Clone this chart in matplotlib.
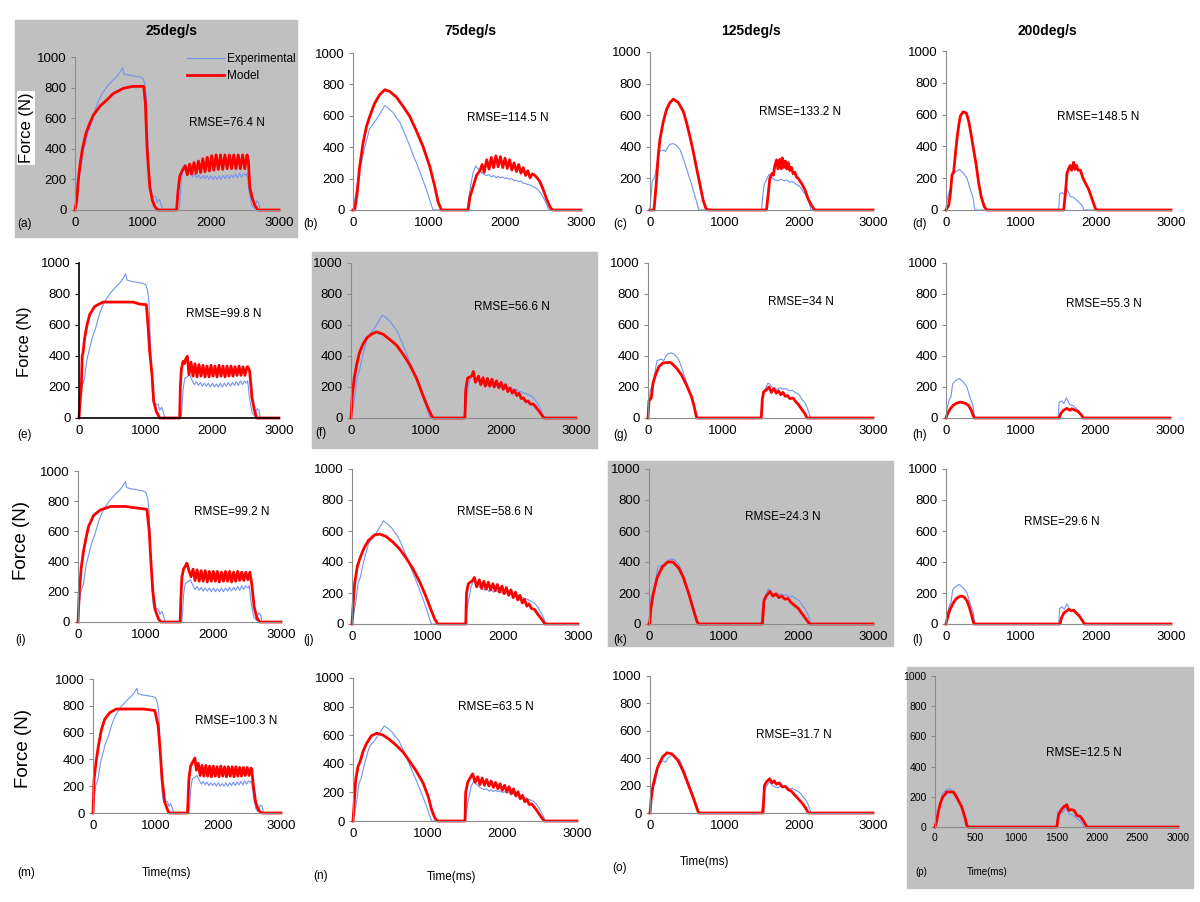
import matplotlib
matplotlib.use("Agg")
import matplotlib.pyplot as plt
from matplotlib.patches import Rectangle

plt.rcParams['font.family'] = ['Liberation Sans', 'DejaVu Sans']

# Experimental force curves (ms, N) - one per velocity, identical in each column
EXP_25 = [(0,0),(20,120),(40,200),(80,250),(120,380),(160,450),(200,520),(250,580),(300,660),(350,720),(400,760),(460,800),(520,830),(560,850),(610,870),(660,900),(700,930),(720,890),(760,885),(800,880),(850,878),(900,872),(950,870),(1000,860),(1030,820),(1050,740),(1070,500),(1090,250),(1110,120),(1130,80),(1160,90),(1190,85),(1210,50),(1240,70),(1270,30),(1290,0),(1530,0),(1545,60),(1560,180),(1585,255),(1620,265),(1660,280),(1700,240),(1730,215),(1760,235),(1790,210),(1820,230),(1850,205),(1880,225),(1910,205),(1940,225),(1970,200),(2000,225),(2030,200),(2060,220),(2090,200),(2120,225),(2150,200),(2180,225),(2210,205),(2240,230),(2270,205),(2300,230),(2330,210),(2360,235),(2390,210),(2420,240),(2450,215),(2480,240),(2510,225),(2530,240),(2560,120),(2600,30),(2640,10),(2670,60),(2700,50),(2720,0),(3000,0)]
EXP_75 = [(0,0),(22,60),(53,150),(79,260),(110,300),(154,400),(220,520),(285,560),(351,610),(417,665),(461,650),(527,620),(570,590),(615,560),(660,510),(703,460),(750,405),(791,350),(835,300),(878,245),(920,190),(966,130),(1000,80),(1032,30),(1054,0),(1500,0),(1515,50),(1546,150),(1581,240),(1616,280),(1640,265),(1669,250),(1700,235),(1730,225),(1757,220),(1790,225),(1820,210),(1850,220),(1880,205),(1910,215),(1940,205),(1970,210),(2000,200),(2030,205),(2060,195),(2090,200),(2120,185),(2150,190),(2180,180),(2210,185),(2240,170),(2270,170),(2300,160),(2330,160),(2360,150),(2390,145),(2420,135),(2450,120),(2481,100),(2525,60),(2569,10),(2591,0),(3000,0)]
EXP_125 = [(0,0),(15,100),(30,180),(50,200),(70,220),(90,290),(120,370),(150,375),(180,380),(210,370),(240,400),(270,415),(300,420),(340,415),(370,400),(400,385),(430,350),(460,310),(500,250),(540,190),(580,130),(610,80),(640,30),(660,0),(1500,0),(1515,80),(1535,160),(1565,190),(1600,225),(1620,220),(1650,200),(1680,190),(1720,185),(1760,195),(1800,185),(1840,190),(1880,175),(1920,180),(1960,165),(2000,155),(2030,140),(2060,115),(2090,100),(2120,70),(2150,30),(2165,0),(3000,0)]
EXP_200 = [(0,0),(13,60),(44,120),(67,140),(89,220),(124,240),(178,255),(235,230),(280,200),(324,130),(360,80),(378,20),(387,0),(1502,0),(1515,100),(1547,110),(1578,95),(1613,130),(1635,110),(1657,85),(1702,80),(1746,60),(1791,40),(1826,20),(1835,0),(3000,0)]

# Model force curves (ms, N) - one per panel
MOD_A = [(0,0),(25,60),(50,200),(75,300),(110,400),(160,500),(220,570),(270,620),(370,680),(470,720),(560,760),(710,795),(850,808),(1010,808),(1035,700),(1060,400),(1100,150),(1140,60),(1175,20),(1220,0),(1495,0),(1510,100),(1540,220),(1580,260),(1620,290),(1652,230),(1685,300),(1717,235),(1750,310),(1782,240),(1815,320),(1847,245),(1880,335),(1912,250),(1945,345),(1977,255),(2010,355),(2042,260),(2075,360),(2107,265),(2140,360),(2172,265),(2205,360),(2237,270),(2270,360),(2302,270),(2335,360),(2367,270),(2400,360),(2432,270),(2465,360),(2497,270),(2530,360),(2550,320),(2570,150),(2605,80),(2645,30),(2690,0),(3000,0)]
MOD_B = [(0,0),(22,0),(53,100),(88,277),(132,426),(176,530),(220,596),(285,680),(351,734),(417,766),(483,755),(571,719),(659,660),(747,596),(834,504),(922,404),(1010,277),(1076,150),(1120,50),(1164,0),(1515,0),(1537,80),(1581,150),(1625,220),(1669,250),(1700,290),(1725,240),(1760,320),(1790,260),(1820,335),(1850,270),(1880,345),(1910,275),(1940,340),(1970,270),(2000,330),(2030,265),(2060,320),(2090,255),(2120,300),(2150,245),(2180,290),(2210,235),(2240,270),(2270,220),(2300,250),(2330,205),(2360,230),(2394,220),(2430,200),(2460,180),(2503,130),(2547,70),(2591,20),(2626,0),(3000,0)]
MOD_C = [(0,0),(54,0),(72,100),(90,200),(112,349),(134,448),(179,560),(224,638),(269,680),(313,702),(381,680),(448,624),(493,550),(537,465),(582,370),(627,264),(672,160),(716,60),(752,10),(784,0),(1567,0),(1590,100),(1612,200),(1640,230),(1660,220),(1679,280),(1702,317),(1720,260),(1745,320),(1765,260),(1780,330),(1800,270),(1820,310),(1840,260),(1860,300),(1880,250),(1903,270),(1925,230),(1948,240),(1970,210),(1993,200),(2037,170),(2082,131),(2127,70),(2172,30),(2216,0),(3000,0)]
MOD_D = [(0,0),(36,30),(58,100),(80,220),(102,240),(124,346),(147,450),(169,530),(191,590),(227,617),(271,610),(302,560),(333,481),(369,377),(404,280),(436,168),(471,80),(511,20),(547,0),(1569,0),(1591,100),(1613,230),(1635,260),(1657,280),(1675,250),(1690,280),(1702,300),(1720,255),(1740,280),(1760,250),(1791,251),(1826,200),(1858,170),(1902,130),(1947,70),(1991,10),(2013,0),(3000,0)]
MOD_E = [(0,0),(15,100),(35,200),(48,400),(60,420),(85,516),(120,600),(160,667),(235,720),(360,748),(810,748),(910,735),(1010,731),(1035,600),(1060,430),(1095,280),(1120,108),(1160,43),(1210,0),(1510,0),(1520,200),(1535,312),(1560,365),(1580,350),(1600,380),(1625,398),(1650,280),(1680,360),(1710,270),(1740,350),(1770,265),(1800,345),(1830,270),(1860,340),(1890,265),(1920,335),(1950,265),(1980,340),(2010,270),(2040,335),(2070,265),(2100,340),(2130,270),(2160,335),(2190,265),(2220,335),(2250,270),(2280,335),(2310,270),(2340,330),(2370,275),(2400,335),(2430,275),(2460,330),(2490,275),(2520,330),(2535,330),(2560,300),(2595,130),(2635,43),(2665,0),(3000,0)]
MOD_F = [(0,0),(18,150),(44,260),(76,344),(111,419),(156,473),(209,516),(276,542),(342,555),(431,540),(520,505),(609,469),(698,409),(787,340),(875,254),(964,140),(1031,60),(1075,15),(1098,0),(1520,0),(1529,180),(1555,258),(1609,270),(1631,300),(1660,230),(1700,270),(1730,215),(1760,260),(1790,205),(1820,255),(1850,205),(1880,250),(1910,200),(1940,240),(1970,195),(2000,230),(2030,185),(2060,215),(2090,170),(2120,195),(2150,160),(2180,180),(2210,145),(2240,160),(2270,125),(2300,130),(2330,105),(2360,110),(2390,90),(2431,90),(2498,50),(2542,20),(2573,0),(3000,0)]
MOD_G = [(0,0),(13,110),(44,130),(67,226),(102,280),(147,333),(200,355),(289,359),(311,355),(378,323),(444,280),(511,215),(578,140),(613,80),(644,10),(653,0),(1511,0),(1524,120),(1542,170),(1578,180),(1613,200),(1645,165),(1680,190),(1710,160),(1740,175),(1770,150),(1800,165),(1830,140),(1860,145),(1890,125),(1933,129),(1970,105),(2000,90),(2044,60),(2089,30),(2120,0),(3000,0)]
MOD_H = [(0,0),(22,30),(58,60),(94,80),(138,95),(192,103),(259,95),(303,80),(339,50),(361,20),(379,0),(1516,0),(1538,30),(1574,50),(1618,62),(1663,50),(1685,60),(1730,50),(1774,40),(1819,15),(1841,0),(3000,0)]
MOD_I = [(0,0),(20,207),(49,364),(84,476),(123,566),(157,634),(231,706),(330,742),(480,765),(700,765),(920,752),(1018,746),(1053,600),(1077,400),(1107,200),(1141,80),(1190,20),(1225,0),(1510,0),(1520,150),(1535,297),(1560,350),(1585,370),(1610,390),(1640,340),(1670,300),(1700,350),(1730,275),(1760,345),(1790,270),(1820,340),(1850,270),(1880,340),(1910,265),(1940,335),(1970,270),(2000,335),(2030,270),(2060,335),(2090,265),(2120,330),(2150,270),(2180,335),(2210,270),(2240,335),(2270,265),(2300,330),(2330,270),(2360,335),(2390,275),(2420,330),(2450,275),(2480,330),(2510,280),(2540,330),(2568,250),(2603,100),(2642,30),(2681,0),(3000,0)]
MOD_J = [(0,0),(15,120),(35,260),(70,370),(110,430),(160,490),(220,540),(300,575),(370,580),(450,565),(540,530),(630,485),(720,425),(810,355),(900,270),(980,180),(1050,90),(1100,30),(1140,0),(1510,0),(1520,200),(1545,260),(1600,280),(1625,300),(1655,240),(1690,285),(1720,230),(1750,275),(1780,225),(1810,270),(1840,220),(1870,260),(1900,215),(1930,255),(1960,205),(1990,245),(2020,195),(2050,235),(2080,185),(2110,220),(2140,170),(2170,205),(2200,155),(2230,185),(2260,135),(2290,160),(2320,115),(2350,130),(2380,100),(2420,95),(2470,60),(2520,30),(2560,0),(3000,0)]
MOD_K = [(0,0),(10,0),(25,100),(60,200),(110,300),(180,370),(250,400),(320,400),(400,360),(460,300),(530,200),(590,100),(640,20),(660,0),(1520,0),(1540,150),(1570,180),(1620,210),(1660,180),(1700,195),(1740,170),(1780,180),(1820,160),(1860,165),(1900,140),(1950,120),(2000,100),(2060,60),(2120,20),(2150,0),(3000,0)]
MOD_L = [(0,0),(20,40),(50,90),(90,130),(130,160),(170,175),(200,180),(240,175),(280,150),(310,110),(340,60),(360,20),(375,0),(1520,0),(1540,40),(1570,70),(1610,85),(1640,95),(1670,85),(1700,90),(1740,70),(1780,50),(1820,20),(1845,0),(3000,0)]
MOD_M = [(0,0),(16,248),(53,397),(85,496),(133,620),(187,700),(267,749),(373,776),(800,776),(986,765),(1040,650),(1066,500),(1103,250),(1146,80),(1200,10),(1226,0),(1508,0),(1530,250),(1556,347),(1590,380),(1626,410),(1650,320),(1680,370),(1710,280),(1740,355),(1770,275),(1800,355),(1830,275),(1860,350),(1890,270),(1920,350),(1950,275),(1980,345),(2010,270),(2040,350),(2070,275),(2100,345),(2130,270),(2160,345),(2190,275),(2220,345),(2250,270),(2280,345),(2310,275),(2340,340),(2370,275),(2400,340),(2430,280),(2460,340),(2490,280),(2520,335),(2532,330),(2560,200),(2596,80),(2640,20),(2690,0),(3000,0)]
MOD_N = [(0,0),(13,100),(36,287),(67,381),(98,420),(134,486),(179,540),(246,596),(322,614),(403,600),(493,568),(582,528),(672,481),(761,416),(851,346),(940,264),(1008,170),(1052,80),(1097,20),(1128,0),(1500,0),(1509,200),(1536,269),(1567,300),(1603,330),(1635,270),(1670,310),(1700,255),(1730,300),(1760,250),(1790,290),(1820,245),(1850,280),(1880,235),(1910,270),(1940,225),(1970,260),(2000,215),(2030,250),(2060,205),(2090,240),(2120,190),(2150,225),(2180,175),(2210,205),(2240,155),(2270,180),(2300,135),(2330,150),(2360,115),(2390,120),(2440,90),(2485,55),(2530,20),(2565,0),(3000,0)]
MOD_O = [(0,0),(15,100),(40,200),(100,330),(170,410),(230,440),(300,430),(380,380),(450,300),(520,200),(590,100),(640,20),(660,0),(1520,0),(1540,200),(1570,230),(1610,250),(1640,220),(1670,235),(1700,210),(1740,220),(1780,190),(1820,195),(1860,170),(1900,160),(1950,130),(2000,100),(2050,70),(2090,40),(2120,10),(2140,0),(3000,0)]
MOD_P = [(0,0),(21,40),(41,100),(62,150),(95,199),(124,215),(144,232),(227,232),(247,215),(288,177),(330,133),(371,60),(391,15),(404,0),(1504,0),(1525,80),(1554,110),(1587,133),(1628,148),(1648,110),(1677,115),(1718,110),(1751,77),(1793,70),(1834,40),(1875,0),(3000,0)]

RMSE = ['76.4', '114.5', '133.2', '148.5', '99.8', '56.6', '34', '55.3',
        '99.2', '58.6', '24.3', '29.6', '100.3', '63.5', '31.7', '12.5']
TITLES = ['25deg/s', '75deg/s', '125deg/s', '200deg/s']
LETTERS = 'abcdefghijklmnop'

EXPS = [EXP_25, EXP_75, EXP_125, EXP_200]
MODS = [MOD_A, MOD_B, MOD_C, MOD_D, MOD_E, MOD_F, MOD_G, MOD_H,
        MOD_I, MOD_J, MOD_K, MOD_L, MOD_M, MOD_N, MOD_O, MOD_P]

W, H = 1200, 902
# axis boxes in pixels: x at 0, x at 3000, y at 1000, y at 0
BOXES = [(75, 279, 57, 210), (353, 581, 53, 210), (650, 873, 52, 210), (946, 1171, 51, 210),
         (79, 279, 263, 418), (351, 576, 263, 418), (648, 873, 263, 418), (946, 1170, 263, 418),
         (78, 281, 471, 622), (352, 578, 469, 624), (649, 873, 469, 624), (946, 1171, 469, 624),
         (93, 281, 679, 813), (353, 577, 678, 821), (650, 873, 676, 813), (935, 1178, 676, 827)]
RMSE_POS = [(189, 123), (467, 118), (759, 112), (1057, 117),
            (186, 314), (474, 307), (768, 302), (1066, 304),
            (194, 512), (457, 512), (745, 517), (1024, 522),
            (195, 721), (458, 707), (756, 735), (1046, 753)]
LETTER_POS = [(17, 224), (303, 224), (613, 224), (912, 224),
              (17, 435), (315, 433), (613, 435), (912, 435),
              (15, 640), (303, 640), (613, 640), (912, 640),
              (17, 873), (313, 876), (612, 868), (915, 872)]
GREY = {0: (15, 20, 297, 237), 5: (312, 252, 597, 448),
        10: (608, 461, 893, 646), 15: (907, 667, 1193, 888)}

RED = '#ff0000'
BLUE = '#7393f2'
AXC = '#8c8c8c'

fig = plt.figure(figsize=(12, 9.02), dpi=100)

for i, (x0, y0, x1, y1) in GREY.items():
    fig.patches.append(Rectangle((x0 / W, 1 - y1 / H), (x1 - x0) / W, (y1 - y0) / H,
                                 transform=fig.transFigure, color='#c0c0c0', zorder=-10))

for i in range(16):
    xa, xb, yt, yb = BOXES[i]
    ax = fig.add_axes([xa / W, 1 - yb / H, (xb - xa) / W, (yb - yt) / H])
    ax.patch.set_alpha(0)
    exp = EXPS[i % 4]
    mod = MODS[i]
    le, = ax.plot([p[0] for p in exp], [p[1] for p in exp], color=BLUE, lw=0.8, clip_on=False)
    lm, = ax.plot([p[0] for p in mod], [p[1] for p in mod], color=RED, lw=2.0, clip_on=False)
    ax.set_xlim(0, 3000)
    ax.set_ylim(0, 1000)
    small = i == 15
    ax.set_yticks([0, 200, 400, 600, 800, 1000])
    if small:
        ax.set_xticks([0, 500, 1000, 1500, 2000, 2500, 3000])
    else:
        ax.set_xticks([0, 1000, 2000, 3000])
    for s in ['top', 'right']:
        ax.spines[s].set_visible(False)
    sc = 'black' if i == 4 else AXC
    for s in ['left', 'bottom']:
        ax.spines[s].set_color(sc)
        ax.spines[s].set_linewidth(1.2 if i == 4 else 0.8)
    fs = 7.5 if small else 9.5
    ax.tick_params(axis='y', direction='out', length=3, color=sc, labelsize=fs, pad=3)
    ax.tick_params(axis='x', length=0, labelsize=fs, pad=5 if not small else 4)

    rx, ry = RMSE_POS[i]
    fig.text(rx / W, 1 - ry / H, 'RMSE=' + RMSE[i] + ' N', fontsize=8.5,
             va='center', ha='left')
    lx, ly = LETTER_POS[i]
    fig.text(lx / W, 1 - ly / H, '(' + LETTERS[i] + ')', fontsize=7 if small else 8.5,
             va='center', ha='left')

    if i == 0:
        ax.legend([le, lm], ['Experimental', 'Model'], loc='upper left',
                  bbox_to_anchor=(187 / W, 1 - 53 / H), bbox_transform=fig.transFigure,
                  frameon=False, fontsize=8.5, handlelength=3.1, handletextpad=0.3,
                  labelspacing=0.4, borderpad=0, borderaxespad=0)

# column titles
for x, t in zip([172, 470, 751, 1047], TITLES):
    fig.text(x / W, 1 - 31 / H, t, fontsize=10, fontweight='bold', ha='center', va='center')

# y labels
fig.text(26 / W, 1 - 128 / H, 'Force (N)', rotation=90, fontsize=12, ha='center', va='center',
         bbox=dict(facecolor='white', edgecolor='none', pad=1))
fig.text(25 / W, 1 - 342 / H, 'Force (N)', rotation=90, fontsize=12, ha='center', va='center')
fig.text(21 / W, 1 - 541 / H, 'Force (N)', rotation=90, fontsize=13.5, ha='center', va='center')
fig.text(23 / W, 1 - 748 / H, 'Force (N)', rotation=90, fontsize=13.5, ha='center', va='center')

# x labels on the bottom row
fig.text(167 / W, 1 - 873 / H, 'Time(ms)', fontsize=8.5, ha='center', va='center')
fig.text(452 / W, 1 - 877 / H, 'Time(ms)', fontsize=8.5, ha='center', va='center')
fig.text(705 / W, 1 - 862 / H, 'Time(ms)', fontsize=8.5, ha='center', va='center')
fig.text(987 / W, 1 - 872 / H, 'Time(ms)', fontsize=7, ha='center', va='center')

fig.savefig('out.png', dpi=100)
